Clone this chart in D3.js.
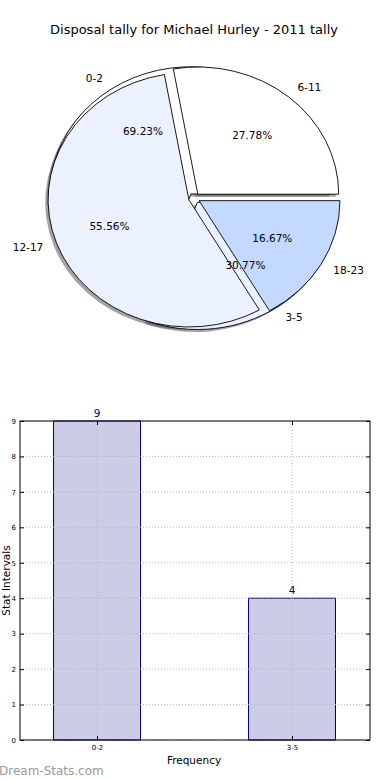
<!DOCTYPE html>
<html>
<head>
<meta charset="utf-8">
<script src="https://cdn.jsdelivr.net/npm/d3@7"></script>
<style>
  html, body { margin: 0; padding: 0; background: #fff; }
  svg { display: block; font-family: "DejaVu Sans", sans-serif; }
</style>
</head>
<body>
<svg id="chart" width="390" height="780"></svg>
<script>
// ---- data ----
const titleText = "Disposal tally for Michael Hurley - 2011 tally";
const pieALabels = ["6-11", "12-17", "18-23"];
const pieAValues = [5, 10, 3];
const pieBLabels = ["0-2", "3-5"];
const pieBValues = [9, 4];
const barCategories = ["0-2", "3-5"];
const barValues = [9, 4];
const yTicks = [0, 1, 2, 3, 4, 5, 6, 7, 8, 9];
const sliceColors = ["#ffffff", "#ebf1ff", "#c4d9ff"];

(function () {
const svg = d3.select("#chart");

// title
svg.append("text").attr("x", 194).attr("y", 34).attr("text-anchor", "middle")
  .attr("font-size", 13).attr("fill", "#000").text(titleText);

// ---- pie (two overlaid pies, matplotlib style: ccw from 3 o'clock) ----
const cx = 194.2, cy = 198.1, rx = 140.9, ry = 127.2;
const explode = 0.04;
const shadowOff = 0.02;

const pieGen = d3.pie().sort(null).startAngle(Math.PI / 2).endAngle(Math.PI / 2 - 2 * Math.PI);
const arcGen = d3.arc().innerRadius(0).outerRadius(1);

function build(labels, values) {
  const total = d3.sum(values);
  return pieGen(values).map((d, i) => {
    const mid = (d.startAngle + d.endAngle) / 2;
    const ux = Math.sin(mid), uy = -Math.cos(mid);
    return { d, i, label: labels[i], pct: (values[i] / total * 100).toFixed(2) + "%",
             ux, uy, color: sliceColors[i % sliceColors.length] };
  });
}
const slicesA = build(pieALabels, pieAValues);
const slicesB = build(pieBLabels, pieBValues);

const pieG = svg.append("g").attr("transform", `translate(${cx},${cy}) scale(${rx},${ry})`);

function shadowColor(c) {
  const k = d3.rgb(c);
  return `rgba(${Math.round(k.r * 0.3)},${Math.round(k.g * 0.3)},${Math.round(k.b * 0.3)},0.5)`;
}

[...slicesB, ...slicesA].forEach(s => {
  pieG.append("path")
    .attr("d", arcGen(s.d))
    .attr("transform", `translate(${s.ux * explode - shadowOff},${s.uy * explode + shadowOff})`)
    .attr("fill", shadowColor(s.color))
    .attr("stroke", "none");
});
[...slicesB, ...slicesA].forEach(s => {
  pieG.append("path")
    .attr("d", arcGen(s.d))
    .attr("transform", `translate(${s.ux * explode},${s.uy * explode})`)
    .attr("fill", s.color)
    .attr("stroke", "#000")
    .attr("stroke-width", 0.9)
    .attr("vector-effect", "non-scaling-stroke")
    .attr("stroke-linejoin", "miter");
});
[...slicesA, ...slicesB].forEach(s => {
  const ox = cx + s.ux * explode * rx, oy = cy + s.uy * explode * ry;
  const lx = ox + 1.1 * rx * s.ux, ly = oy + 1.1 * ry * s.uy;
  svg.append("text").attr("x", lx).attr("y", ly).attr("dy", "0.35em")
    .attr("text-anchor", (lx - cx) > 0 ? "start" : "end")
    .attr("font-size", 10.5).attr("fill", "#000").text(s.label);
  const px = ox + 0.6 * rx * s.ux, py = oy + 0.6 * ry * s.uy;
  svg.append("text").attr("x", px).attr("y", py).attr("dy", "0.35em")
    .attr("text-anchor", "middle")
    .attr("font-size", 10.5).attr("fill", "#000").text(s.pct);
});

// ---- bar chart ----
const pl = 20, pr = 370, pt = 421, pb = 740;
const x = d3.scaleLinear().domain([-0.395, 1.4]).range([pl, pr]);
const y = d3.scaleLinear().domain([0, 9]).range([pb, pt]);
const barW = 0.446;

const bg = svg.append("g");
barValues.forEach((v, i) => {
  bg.append("rect")
    .attr("x", x(i - barW / 2)).attr("y", y(v))
    .attr("width", x(i + barW / 2) - x(i - barW / 2)).attr("height", y(0) - y(v))
    .attr("fill", "#ccccE6").attr("stroke", "#000080").attr("stroke-width", 1);
});
yTicks.forEach(t => {
  bg.append("line").attr("x1", pl).attr("x2", pr).attr("y1", y(t)).attr("y2", y(t))
    .attr("stroke", "#aaa").attr("stroke-width", 0.8).attr("stroke-dasharray", "1,2");
});
barCategories.forEach((c, i) => {
  bg.append("line").attr("x1", x(i)).attr("x2", x(i)).attr("y1", pt).attr("y2", pb)
    .attr("stroke", "#aaa").attr("stroke-width", 0.8).attr("stroke-dasharray", "1,2");
});
barValues.forEach((v, i) => {
  bg.append("text").attr("x", x(i)).attr("y", y(v) - 4).attr("text-anchor", "middle")
    .attr("font-size", 10.5).attr("fill", "#000080").text(v);
});
bg.append("rect").attr("x", pl).attr("y", pt).attr("width", pr - pl).attr("height", pb - pt)
  .attr("fill", "none").attr("stroke", "#000").attr("stroke-width", 1);

const yAxis = d3.axisLeft(y).tickValues(yTicks).tickSize(-4).tickPadding(4).tickFormat(d3.format("d"));
const ya = svg.append("g").attr("transform", `translate(${pl},0)`).call(yAxis);
ya.select(".domain").remove();
ya.selectAll("text").attr("font-size", 7).attr("font-family", "DejaVu Sans, sans-serif").attr("fill", "#000");
ya.selectAll("line").attr("stroke", "#000");

const yAxisR = d3.axisRight(y).tickValues(yTicks).tickSize(-4).tickFormat("");
const yar = svg.append("g").attr("transform", `translate(${pr},0)`).call(yAxisR);
yar.select(".domain").remove();

const xAxis = d3.axisBottom(x).tickValues(barCategories.map((c, i) => i))
  .tickFormat((d) => barCategories[d]).tickSize(-4).tickPadding(5);
const xa = svg.append("g").attr("transform", `translate(0,${pb})`).call(xAxis);
xa.select(".domain").remove();
xa.selectAll("text").attr("font-size", 7).attr("font-family", "DejaVu Sans, sans-serif").attr("fill", "#000");

const xAxisT = d3.axisTop(x).tickValues(barCategories.map((c, i) => i)).tickSize(-4).tickFormat("");
const xat = svg.append("g").attr("transform", `translate(0,${pt})`).call(xAxisT);
xat.select(".domain").remove();

svg.append("text").attr("x", 194).attr("y", 764).attr("text-anchor", "middle")
  .attr("font-size", 10.5).attr("fill", "#000").text("Frequency");
svg.append("text").attr("transform", `translate(10,${(pt + pb) / 2}) rotate(-90)`)
  .attr("text-anchor", "middle").attr("font-size", 10.5).attr("fill", "#000").text("Stat Intervals");

svg.append("text").attr("x", -1).attr("y", 775).attr("font-size", 12)
  .attr("fill", "#9a9a9a").text("Dream-Stats.com");
})();
</script>
</body>
</html>
